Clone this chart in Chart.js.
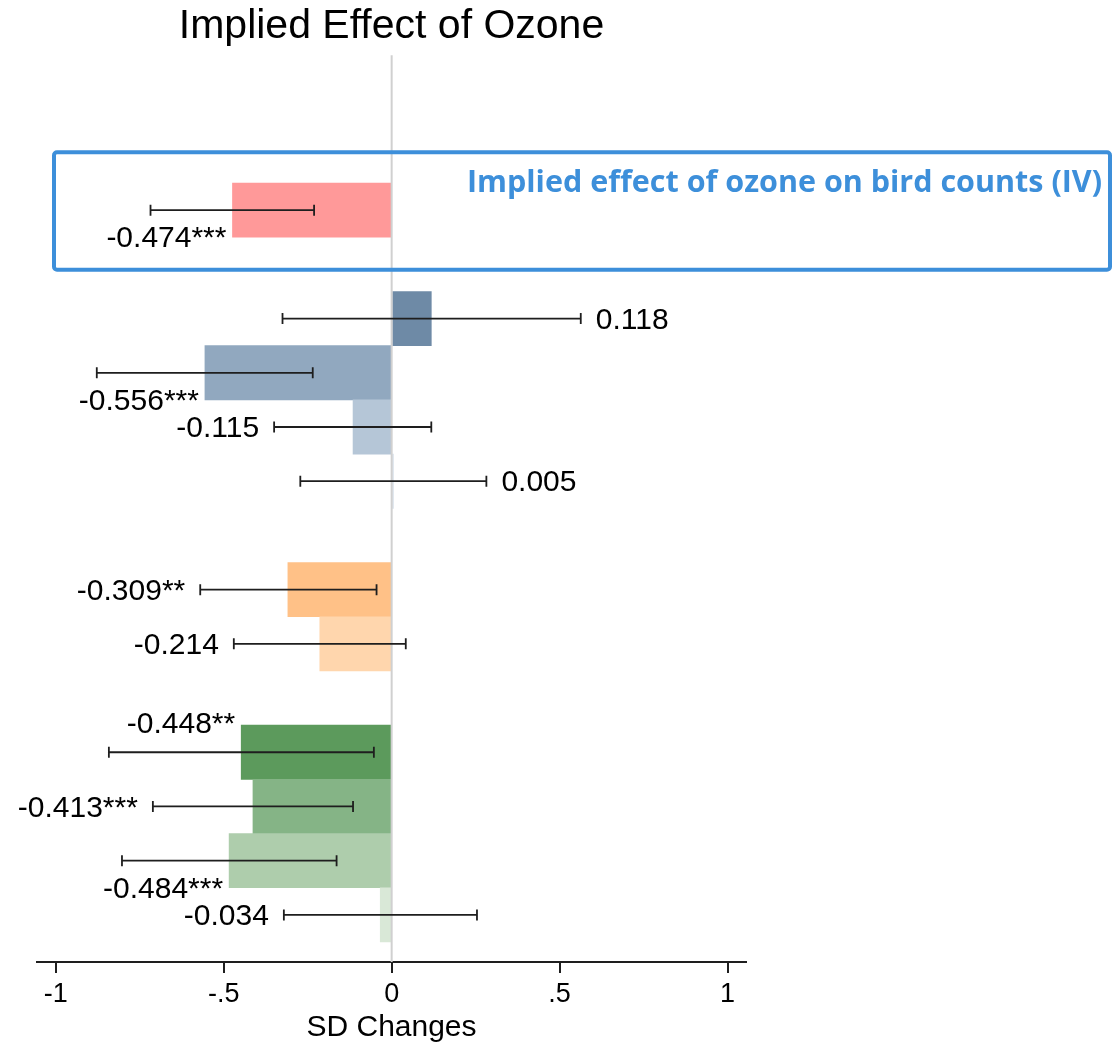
<!DOCTYPE html>
<html>
<head>
<meta charset="utf-8">
<title>Implied Effect of Ozone</title>
<script src="https://cdn.jsdelivr.net/npm/chart.js@4.4.0/dist/chart.umd.min.js"></script>
<style>
  html, body { margin: 0; padding: 0; background: #fff; }
  #wrap { width: 1119px; height: 1044px; }
</style>
</head>
<body>
<div id="wrap"><canvas id="ozoneChart" width="1119" height="1044"></canvas></div>
<script>
// rows from top to bottom, '' is an empty spacer row
const categories = ['Bird counts (IV)', '', 'A1', 'A2', 'A3', 'A4', '', 'B1', 'B2', '', 'C1', 'C2', 'C3', 'C4'];
const estimates = [-0.474, 0.118, -0.556, -0.115, 0.005, -0.309, -0.214, -0.448, -0.413, -0.484, -0.034];
const ciLow = [-0.718, -0.325, -0.878, -0.350, -0.272, -0.570, -0.470, -0.842, -0.711, -0.803, -0.321];
const ciHigh = [-0.231, 0.563, -0.235, 0.118, 0.282, -0.045, 0.042, -0.053, -0.115, -0.164, 0.254];
const stars = ['***', '', '***', '', '', '**', '', '**', '***', '***', ''];
const xTicks = [-1, -0.5, 0, 0.5, 1];
const xTickLabels = ['-1', '-.5', '0', '.5', '1'];

// styling, one per bar
const barColors = ['#ff9999', '#6e8aa6', '#91a8bf', '#b5c6d7', '#d3dde8', '#ffc187', '#ffd6ad', '#5c9a5c', '#85b486', '#aecdac', '#d9e8d7'];
const labelPlace = ['below', 'outside', 'below', 'outside', 'outside', 'outside', 'outside', 'above', 'outside', 'below', 'outside'];
const boxColor = '#3d8fda';

const rowIndex = [];
categories.forEach(function (c, i) {
    if (c !== '') rowIndex.push(i);
});
const points = estimates.map(function (v, i) {
    return { x: v, y: rowIndex[i] };
});

const overlay = {
    id: 'overlay',
    afterDatasetsDraw: function (chart) {
        const ctx = chart.ctx;
        const xs = chart.scales.x;
        const ys = chart.scales.y;
        const area = chart.chartArea;
        const rowH = Math.abs(ys.getPixelForValue(1) - ys.getPixelForValue(0));
        const zero = xs.getPixelForValue(0);
        ctx.save();

        // zero line
        ctx.strokeStyle = '#d0d0d0';
        ctx.lineWidth = 2;
        ctx.beginPath();
        ctx.moveTo(zero, area.top);
        ctx.lineTo(zero, area.bottom);
        ctx.stroke();

        // confidence intervals
        ctx.strokeStyle = '#1e1e1e';
        ctx.lineWidth = 1.8;
        estimates.forEach(function (v, i) {
            const y = ys.getPixelForValue(rowIndex[i]);
            const x1 = xs.getPixelForValue(ciLow[i]);
            const x2 = xs.getPixelForValue(ciHigh[i]);
            ctx.beginPath();
            ctx.moveTo(x1, y); ctx.lineTo(x2, y);
            ctx.moveTo(x1, y - 5.5); ctx.lineTo(x1, y + 5.5);
            ctx.moveTo(x2, y - 5.5); ctx.lineTo(x2, y + 5.5);
            ctx.stroke();
        });

        // value labels
        ctx.fillStyle = '#000';
        ctx.font = '30px "Liberation Sans", Arial, sans-serif';
        ctx.textBaseline = 'middle';
        estimates.forEach(function (v, i) {
            const y = ys.getPixelForValue(rowIndex[i]);
            const text = v.toFixed(3) + stars[i];
            const place = labelPlace[i];
            if (place === 'outside') {
                if (v < 0) {
                    ctx.textAlign = 'right';
                    ctx.fillText(text, xs.getPixelForValue(ciLow[i]) - 15, y + 2);
                } else {
                    ctx.textAlign = 'left';
                    ctx.fillText(text, xs.getPixelForValue(ciHigh[i]) + 15, y + 2);
                }
            } else {
                const dy = place === 'below' ? rowH * 0.53 : -rowH * 0.5;
                ctx.textAlign = 'right';
                ctx.fillText(text, xs.getPixelForValue(v) - 6, y + dy);
            }
        });

        // highlight box around the IV row
        const top = ys.getPixelForValue(rowIndex[0] - 1.07);
        const bottom = ys.getPixelForValue(rowIndex[0] + 1.1);
        const left = 54;
        const right = chart.width - 9;
        ctx.strokeStyle = boxColor;
        ctx.lineWidth = 4;
        ctx.beginPath();
        ctx.roundRect(left, top, right - left, bottom - top, 3);
        ctx.stroke();
        ctx.fillStyle = boxColor;
        ctx.font = 'bold 30.5px "Open Sans", "Noto Sans", sans-serif';
        ctx.textAlign = 'right';
        ctx.fillText('Implied effect of ozone on bird counts (IV)', right - 8, top + 31);

        ctx.restore();
    }
};

const ctx = document.getElementById('ozoneChart').getContext('2d');
new Chart(ctx, {
    type: 'bar',
    data: {
        datasets: [{
            data: points,
            backgroundColor: barColors,
            borderWidth: 0,
            barPercentage: 1,
            categoryPercentage: 1
        }]
    },
    options: {
        indexAxis: 'y',
        responsive: false,
        animation: false,
        events: [],
        layout: {
            padding: { left: 37, right: 373, top: 0, bottom: 0 }
        },
        plugins: {
            legend: { display: false },
            tooltip: { enabled: false },
            title: {
                display: true,
                text: 'Implied Effect of Ozone',
                fullSize: false,
                color: '#000',
                font: { family: '"Liberation Sans", Arial, sans-serif', size: 41, weight: 'normal', lineHeight: 1.15 },
                padding: { top: 3, bottom: 5 }
            }
        },
        scales: {
            x: {
                type: 'linear',
                min: -1.056,
                max: 1.055,
                afterBuildTicks: function (scale) {
                    scale.ticks = xTicks.map(function (v) { return { value: v }; });
                },
                ticks: {
                    color: '#000',
                    padding: 10.5,
                    maxRotation: 0,
                    font: { family: '"Liberation Sans", Arial, sans-serif', size: 27, lineHeight: 0.85 },
                    callback: function (value, index) {
                        return xTickLabels[index];
                    }
                },
                grid: {
                    drawOnChartArea: false,
                    drawTicks: true,
                    tickLength: 11,
                    color: '#1e1e1e',
                    lineWidth: 2
                },
                border: { display: true, color: '#1e1e1e', width: 2 },
                title: {
                    display: true,
                    text: 'SD Changes',
                    color: '#000',
                    font: { family: '"Liberation Sans", Arial, sans-serif', size: 30, lineHeight: 1.05 },
                    // negative top keeps the title where it is while giving the plot a bit more height
                    padding: { top: -5.5, bottom: 1 }
                }
            },
            y: {
                type: 'linear',
                display: false,
                reverse: true,
                offset: false,
                min: -2.86,
                max: categories.length - 1 + 0.87,
                ticks: { stepSize: 1, includeBounds: false }
            }
        }
    },
    plugins: [overlay]
});
</script>
</body>
</html>
